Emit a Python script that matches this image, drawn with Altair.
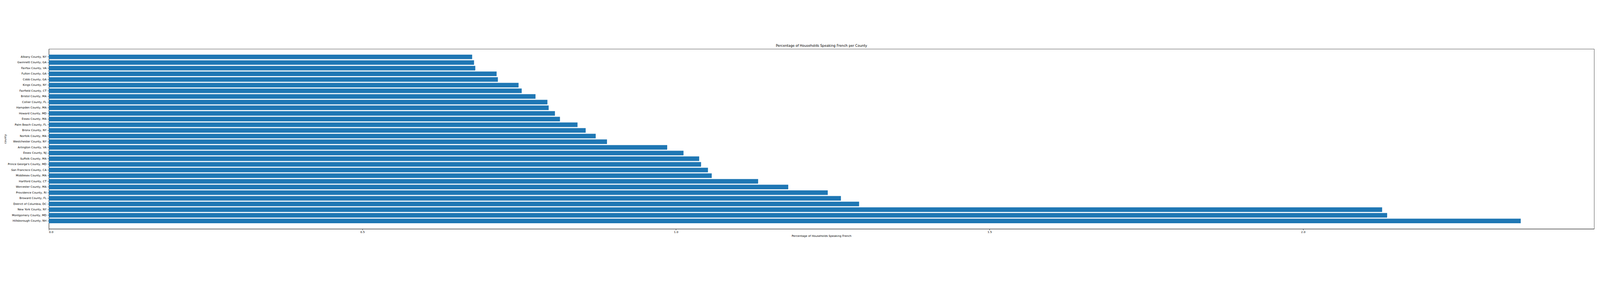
import altair as alt
import pandas as pd

counties = ["Albany County, NY", "Gwinnett County, GA", "Fairfax County, VA", "Fulton County, GA",
            "Cobb County, GA", "Kings County, NY", "Fairfield County, CT", "Bristol County, MA",
            "Collier County, FL", "Hampden County, MA", "Howard County, MD", "Essex County, MA",
            "Palm Beach County, FL", "Bronx County, NY", "Norfolk County, MA", "Westchester County, NY",
            "Arlington County, VA", "Essex County, NJ", "Suffolk County, MA", "Prince George's County, MD",
            "San Francisco County, CA", "Middlesex County, MA", "Hartford County, CT", "Worcester County, MA",
            "Providence County, RI", "Broward County, FL", "District of Columbia, DC", "New York County, NY",
            "Montgomery County, MD", "Hillsborough County, NH"]
values = [0.675, 0.678, 0.680, 0.714, 0.716, 0.749, 0.754, 0.776, 0.795, 0.797, 0.807, 0.815,
          0.843, 0.856, 0.872, 0.890, 0.986, 1.012, 1.037, 1.040, 1.051, 1.057, 1.131, 1.179,
          1.242, 1.263, 1.292, 2.126, 2.134, 2.347]

df = pd.DataFrame({"county": counties, "pct": values})

chart = alt.Chart(df).mark_bar(color="#1f77b4").encode(
    x=alt.X("pct:Q", title="Percentage of Households Speaking French",
            scale=alt.Scale(domain=[0, 2.464], nice=False, zero=True),
            axis=alt.Axis(values=[0, 0.5, 1.0, 1.5, 2.0], format=".1f", grid=False,
                          domainColor="black", tickColor="black", labelColor="black",
                          titleColor="black", labelFontSize=10, titleFontSize=10,
                          titleFontWeight="normal", labelFont="DejaVu Sans", titleFont="DejaVu Sans")),
    y=alt.Y("county:N", sort=None, title="county",
            scale=alt.Scale(paddingInner=0.2, paddingOuter=1.0),
            axis=alt.Axis(grid=False, domainColor="black", tickColor="black", labelColor="black",
                          titleColor="black", labelFontSize=10, titleFontSize=10,
                          titleFontWeight="normal", labelFont="DejaVu Sans", titleFont="DejaVu Sans",
                          labelPadding=4)),
).properties(
    width=5577, height=650,
    title=alt.TitleParams("Percentage of Households Speaking French per County",
                          font="DejaVu Sans", fontSize=12, fontWeight="normal", color="black"),
    autosize=alt.AutoSizeParams(type="none"),
    padding={"left": 165, "top": 20, "right": 10, "bottom": 40},
).configure_view(stroke="black")

chart.save("out.html", embed_options={"renderer": "svg", "actions": False})
